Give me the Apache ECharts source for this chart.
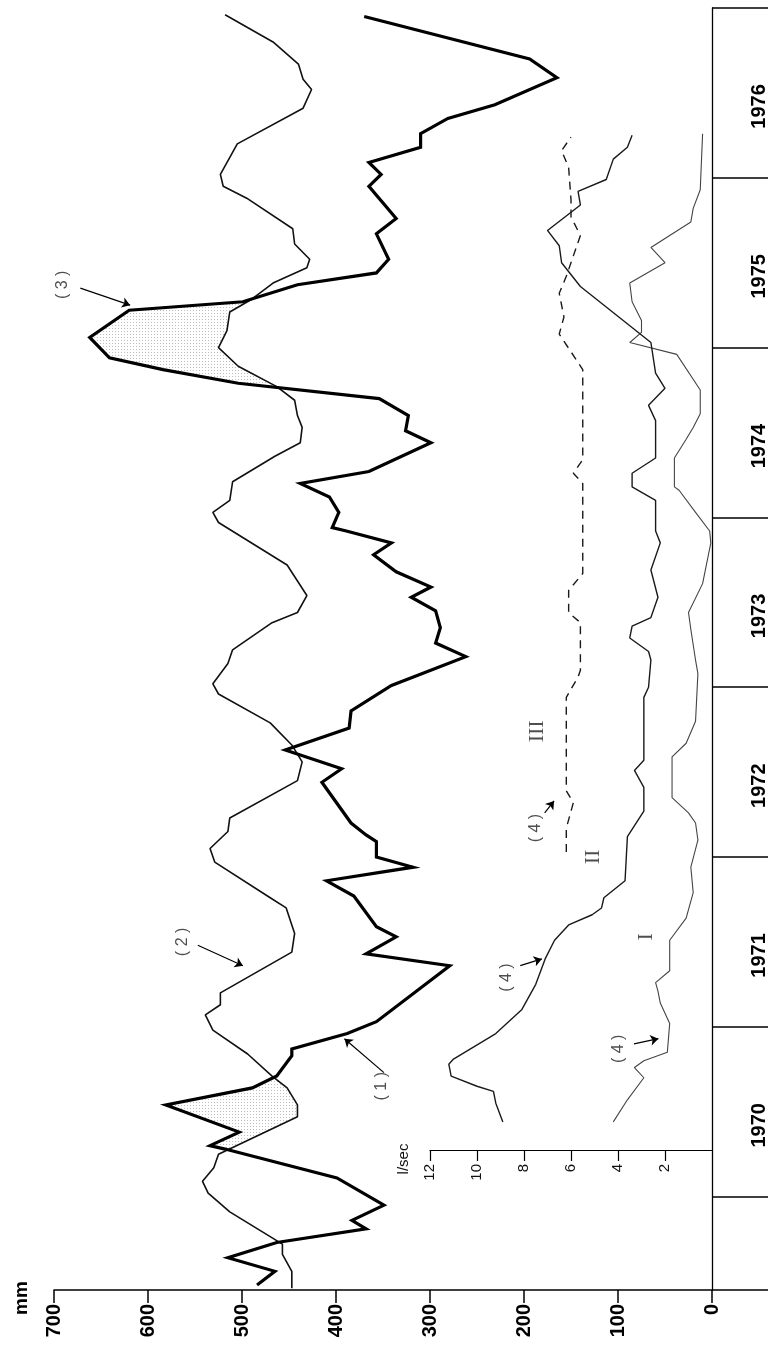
<!DOCTYPE html>
<html><head><meta charset="utf-8">
<script src="https://cdn.jsdelivr.net/npm/echarts@6/dist/echarts.min.js"></script>
<style>html,body{margin:0;padding:0;background:#fff}#c{width:774px;height:1346px}</style>
</head><body><div id="c"></div>
<script>
// ---- Data (time in decimal years, rain/evap in mm, discharge in l/sec) ----
const time1 = [1969.48,1969.56,1969.64,1969.73,1969.81,1969.86,1969.95,1970.11,1970.28,1970.30,1970.38,1970.54,1970.64,1970.71,1970.83,1970.87,1970.96,1971.03,1971.36,1971.43,1971.53,1971.59,1971.77,1971.86,1971.94,1972.00,1972.09,1972.13,1972.20,1972.44,1972.52,1972.63,1972.76,1972.86,1973.01,1973.18,1973.26,1973.35,1973.45,1973.53,1973.59,1973.68,1973.78,1973.85,1973.92,1973.94,1974.03,1974.12,1974.20,1974.27,1974.44,1974.51,1974.60,1974.70,1974.79,1974.87,1974.94,1975.06,1975.22,1975.27,1975.37,1975.44,1975.52,1975.67,1975.76,1975.95,1976.02,1976.09,1976.18,1976.26,1976.35,1976.43,1976.59,1976.70,1976.95];
const rain1 = [484,465,515,463,368,383,349,399,518,534,503,581,489,463,447,447,388,357,279,368,336,357,381,410,318,357,357,368,384,415,394,454,386,384,341,262,294,289,294,320,299,336,360,341,389,404,397,407,438,365,299,326,323,354,504,584,641,662,620,499,441,357,344,357,336,365,352,365,310,310,281,231,165,194,370];

const time2 = [1969.46,1969.56,1969.66,1969.72,1969.91,1970.02,1970.09,1970.17,1970.25,1970.47,1970.54,1970.64,1970.71,1970.84,1970.98,1971.07,1971.13,1971.20,1971.44,1971.55,1971.70,1971.76,1971.97,1972.05,1972.15,1972.23,1972.45,1972.56,1972.66,1972.79,1972.96,1973.02,1973.14,1973.22,1973.38,1973.44,1973.54,1973.72,1973.97,1974.03,1974.10,1974.21,1974.36,1974.44,1974.53,1974.60,1974.69,1974.77,1974.89,1975.00,1975.10,1975.21,1975.28,1975.38,1975.47,1975.52,1975.61,1975.70,1975.88,1975.95,1976.02,1976.20,1976.41,1976.52,1976.58,1976.67,1976.80,1976.96];
const evap2 = [447,447,457,457,513,536,542,530,525,441,441,452,468,494,531,539,523,523,447,444,453,470,529,534,515,513,441,436,447,470,525,531,515,510,468,441,431,452,525,531,513,510,465,438,436,441,444,463,504,525,516,513,491,467,431,428,444,446,495,520,523,505,435,426,435,440,467,518];

const timeI = [1970.44,1970.57,1970.70,1970.76,1970.80,1970.85,1971.02,1971.14,1971.21,1971.26,1971.33,1971.51,1971.64,1971.79,1971.94,1972.10,1972.20,1972.26,1972.35,1972.59,1972.67,1972.80,1973.08,1973.16,1973.34,1973.44,1973.61,1973.85,1973.92,1974.03,1974.16,1974.18,1974.35,1974.46,1974.53,1974.61,1974.75,1974.96,1975.03,1975.09,1975.16,1975.27,1975.38,1975.50,1975.59,1975.74,1975.82,1975.93,1976.26];
const flowI = [4.2,3.6,2.9,3.3,2.9,1.9,1.8,2.2,2.3,2.4,1.8,1.8,1.1,0.8,0.9,0.6,0.7,1.0,1.7,1.7,1.1,0.7,0.6,0.7,0.9,1.0,0.4,0.05,0.1,0.7,1.4,1.6,1.6,1.1,0.8,0.5,0.5,1.5,3.5,3.0,3.0,3.4,3.5,2.0,2.6,0.9,0.8,0.5,0.4];

const timeII = [1970.44,1970.55,1970.62,1970.65,1970.71,1970.78,1970.81,1970.96,1971.10,1971.25,1971.40,1971.51,1971.60,1971.66,1971.70,1971.76,1971.86,1972.12,1972.27,1972.41,1972.51,1972.57,1972.80,1972.94,1973.00,1973.16,1973.21,1973.29,1973.36,1973.41,1973.53,1973.69,1973.85,1973.92,1974.10,1974.18,1974.26,1974.35,1974.57,1974.66,1974.76,1974.85,1975.03,1975.36,1975.50,1975.60,1975.69,1975.84,1975.92,1975.99,1976.11,1976.18,1976.25];
const flowII = [8.9,9.2,9.3,10.0,11.1,11.2,11.0,9.2,8.1,7.5,7.1,6.7,6.1,5.1,4.7,4.6,3.7,3.6,2.9,2.9,3.3,2.9,2.9,2.9,2.7,2.6,2.7,3.5,3.4,2.6,2.3,2.6,2.2,2.4,2.4,3.4,3.4,2.4,2.4,2.7,2.0,2.4,2.6,5.6,6.4,6.5,7.0,5.6,5.7,4.5,4.2,3.6,3.4];

const timeIII = [1972.03,1972.17,1972.32,1972.39,1972.94,1973.06,1973.10,1973.38,1973.44,1973.57,1973.67,1974.20,1974.26,1974.34,1974.87,1975.08,1975.18,1975.32,1975.42,1975.66,1975.77,1975.87,1976.06,1976.16,1976.24];
const flowIII = [6.2,6.2,5.9,6.2,6.2,5.7,5.6,5.6,6.1,6.1,5.5,5.5,5.9,5.5,5.5,6.5,6.3,6.5,6.2,5.6,6.0,6.0,6.1,6.4,6.0];

// axis ticks / labels
const mmTicks = [0,100,200,300,400,500,600,700];
const yearTicks = [1969.45,1970,1971,1972,1973,1974,1975,1976,1977];
const yearLabels = ['1970','1971','1972','1973','1974','1975','1976'];
const lpsTicks = [2,4,6,8,10,12];

// annotations (positions in mm / year)
const annoText = ['( 1 )','( 2 )','( 3 )','( 4 )','( 4 )','( 4 )'];
const annoMm   = [352,563,691,99,218,188];
const annoTime = [1970.65,1971.50,1975.37,1970.87,1971.29,1972.17];
const arrowFromMm = [349,547,672,83,204,178];
const arrowFromT  = [1970.73,1971.48,1975.35,1970.90,1971.36,1972.26];
const arrowToMm   = [391,499,619,57,181,168];
const arrowToT    = [1970.93,1971.36,1975.25,1970.93,1971.40,1972.33];
const romanText = ['I','II','III'];
const romanMm   = [70,126,186];
const romanTime = [1971.53,1972.00,1972.74];
const shadeWindows = [[1970.2,1970.8],[1974.72,1975.4]];

// ---- helpers ----
const pairs = (vals, times) => vals.map((v,i)=>[v, times[i]]);
function valAt(ts, vs, t){
  if(t<=ts[0]) return vs[0];
  for(let i=1;i<ts.length;i++){ if(t<=ts[i]){ const f=(t-ts[i-1])/(ts[i]-ts[i-1]); return vs[i-1]+f*(vs[i]-vs[i-1]); } }
  return vs[vs.length-1];
}
const diffAt = t => valAt(time1,rain1,t) - valAt(time2,evap2,t);
function shadePolys(a,b){
  let T = [...time1, ...time2].filter(t=>t>a && t<b); T.push(a,b);
  T = Array.from(new Set(T)).sort((x,y)=>x-y);
  const T2=[];
  for(let i=0;i<T.length;i++){
    const t=T[i], d=diffAt(t);
    if(i>0){ const tp=T[i-1], dp=diffAt(tp);
      if((dp>0&&d<0)||(dp<0&&d>0)){ T2.push(tp+(t-tp)*dp/(dp-d)); } }
    T2.push(t);
  }
  const polys=[]; let run=[];
  for(const t of T2){ if(diffAt(t)>=-1e-6) run.push(t); else { if(run.length>1) polys.push(run); run=[]; } }
  if(run.length>1) polys.push(run);
  return polys.map(r=>[...r.map(t=>[valAt(time1,rain1,t),t]), ...r.slice().reverse().map(t=>[valAt(time2,evap2,t),t])]);
}
const shadeData = shadeWindows.map(w=>shadePolys(w[0],w[1]));

const pat = document.createElement('canvas'); pat.width=3; pat.height=3;
const pc = pat.getContext('2d'); pc.fillStyle='#ffffff'; pc.fillRect(0,0,3,3); pc.fillStyle='#bdbdbd'; pc.fillRect(1,1,1,1);

const FONT = "'Liberation Sans', Arial, sans-serif";
const chart = echarts.init(document.getElementById('c'), null, {renderer:'canvas'});
const option = {
  animation:false,
  backgroundColor:'#ffffff',
  grid:[
    {left:54, right:62, top:8, bottom:56},
    {left:430, right:62, top:1140, bottom:196}
  ],
  xAxis:[
    {gridIndex:0, type:'value', min:0, max:700, interval:100, inverse:true, position:'bottom',
     axisLine:{onZero:false, lineStyle:{color:'#000', width:1.5}},
     axisTick:{length:13, lineStyle:{color:'#000', width:1.5}},
     axisLabel:{rotate:90, margin:14, fontWeight:'bold', fontSize:20, color:'#000', fontFamily:FONT},
     splitLine:{show:false}},
    {gridIndex:0, type:'value', min:0, max:28, inverse:true, show:false},
    {gridIndex:1, type:'value', min:0, max:12, interval:2, inverse:true, position:'bottom',
     axisLine:{onZero:false, lineStyle:{color:'#000', width:1.2}},
     axisTick:{length:11, customValues:lpsTicks, lineStyle:{color:'#000', width:1.2}},
     axisLabel:{rotate:90, margin:14, customValues:lpsTicks, fontSize:15, color:'#111', fontFamily:FONT},
     splitLine:{show:false}}
  ],
  yAxis:[
    {gridIndex:0, type:'value', min:1969.45, max:1977, position:'right',
     axisLine:{show:true, onZero:false, lineStyle:{color:'#000', width:1.3}},
     axisTick:{show:true, inside:false, length:56, customValues:yearTicks, lineStyle:{color:'#000', width:1.5}},
     axisLabel:{rotate:90, margin:37, customValues:yearLabels.map(y=>+y+0.42), formatter:v=>String(Math.floor(v)),
                fontWeight:'bold', fontSize:20, color:'#000', fontFamily:FONT},
     splitLine:{show:false}},
    {gridIndex:1, type:'value', min:0, max:1, show:false}
  ],
  graphic:[
    {type:'text', x:22, y:1298, rotation:Math.PI/2, style:{text:'mm', font:"bold 19px 'Liberation Sans'", fill:'#000', textAlign:'center', textVerticalAlign:'middle'}},
    {type:'text', x:404, y:1159, rotation:Math.PI/2, style:{text:'l/sec', font:"15px 'Liberation Sans'", fill:'#111', textAlign:'center', textVerticalAlign:'middle'}}
  ],
  series:[
    {type:'custom', xAxisIndex:0, yAxisIndex:0, silent:true, z:1, data:[[0],[1]],
     renderItem:(params, api)=>{
       const polys = shadeData[api.value(0)];
       return {type:'group', children: polys.map(p=>({type:'polygon', shape:{points:p.map(q=>api.coord(q))}, style:{fill:{image:pat, repeat:'repeat'}, stroke:null}}))};
     }},
    {type:'line', name:'(1)', xAxisIndex:0, yAxisIndex:0, data:pairs(rain1,time1), symbol:'none', silent:true, z:5,
     lineStyle:{color:'#000', width:3.2, join:'miter'}},
    {type:'line', name:'(2)', xAxisIndex:0, yAxisIndex:0, data:pairs(evap2,time2), symbol:'none', silent:true, z:4,
     lineStyle:{color:'#111', width:1.6}},
    {type:'line', name:'I', xAxisIndex:1, yAxisIndex:0, data:pairs(flowI,timeI), symbol:'none', silent:true, z:4,
     lineStyle:{color:'#444', width:1.1}},
    {type:'line', name:'II', xAxisIndex:1, yAxisIndex:0, data:pairs(flowII,timeII), symbol:'none', silent:true, z:4,
     lineStyle:{color:'#1a1a1a', width:1.4}},
    {type:'line', name:'III', xAxisIndex:1, yAxisIndex:0, data:pairs(flowIII,timeIII), symbol:'none', silent:true, z:4,
     lineStyle:{color:'#1a1a1a', width:1.4, type:[8,6]}},
    {type:'scatter', xAxisIndex:0, yAxisIndex:0, silent:true, symbolSize:1, itemStyle:{color:'rgba(0,0,0,0)'},
     data:annoText.map((s,i)=>[annoMm[i], annoTime[i], s]),
     label:{show:true, position:'inside', rotate:90, formatter:p=>p.data[2], fontSize:16, color:'#222', fontFamily:FONT}},
    {type:'scatter', xAxisIndex:0, yAxisIndex:0, silent:true, symbolSize:1, itemStyle:{color:'rgba(0,0,0,0)'},
     data:romanText.map((s,i)=>[romanMm[i], romanTime[i], s]),
     label:{show:true, position:'inside', rotate:90, formatter:p=>p.data[2], fontSize:22, color:'#222', fontFamily:"'Liberation Serif', serif"}},
    {type:'lines', coordinateSystem:'cartesian2d', xAxisIndex:0, yAxisIndex:0, silent:true, z:6,
     symbol:['none','arrow'], symbolSize:8,
     data:annoText.map((s,i)=>({coords:[[arrowFromMm[i],arrowFromT[i]],[arrowToMm[i],arrowToT[i]]]})),
     lineStyle:{color:'#000', width:1.2, opacity:1, curveness:0}}
  ]
};
chart.setOption(option);
</script></body></html>
